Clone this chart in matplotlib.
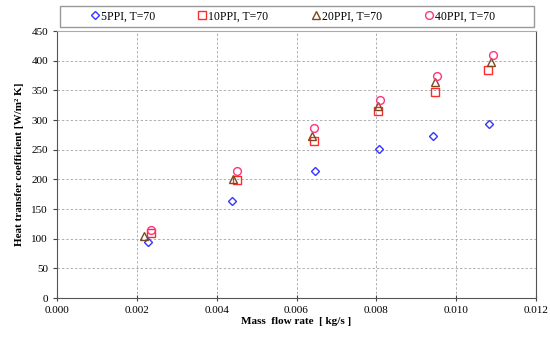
import matplotlib
matplotlib.use("Agg")
import matplotlib.pyplot as plt
from matplotlib.patches import Rectangle

# Measured heat transfer coefficient vs. mass flow rate for four foam densities
flow_5ppi = [0.00227, 0.00438, 0.00647, 0.00807, 0.00942, 0.01082]
htc_5ppi = [95, 164, 215, 251, 273, 294]

flow_10ppi = [0.00236, 0.00452, 0.00644, 0.00805, 0.00946, 0.01080]
htc_10ppi = [110, 199, 264, 316, 348, 384]

flow_20ppi = [0.00217, 0.00440, 0.00640, 0.00805, 0.00946, 0.01086]
htc_20ppi = [104, 201, 274, 324, 364, 398]

flow_40ppi = [0.00236, 0.00452, 0.00644, 0.00809, 0.00951, 0.01092]
htc_40ppi = [114, 214, 287, 334, 374, 409]

labels = ["5PPI, T=70", "10PPI, T=70", "20PPI, T=70", "40PPI, T=70"]
x_ticks = [0.000, 0.002, 0.004, 0.006, 0.008, 0.010, 0.012]
y_ticks = [0, 50, 100, 150, 200, 250, 300, 350, 400, 450]

plt.rcParams["font.family"] = ["Liberation Serif", "DejaVu Serif"]

fig = plt.figure(figsize=(5.5, 3.38), dpi=100)
ax = fig.add_axes([0.1036, 0.118, 0.871, 0.790])

styles = [
    (flow_5ppi, htc_5ppi, "D", "#3535ff", 3.8),
    (flow_10ppi, htc_10ppi, "s", "#ff2a2a", 5.2),
    (flow_20ppi, htc_20ppi, "^", "#7a4a1e", 5.8),
    (flow_40ppi, htc_40ppi, "o", "#ff3380", 5.6),
]
for (xs, ys, mk, col, ms), lab in zip(styles, labels):
    ax.plot(xs, ys, linestyle="none", marker=mk, markersize=ms,
            markerfacecolor="none", markeredgecolor=col,
            markeredgewidth=1.0, label=lab)

ax.set_xlim(0, 0.012)
ax.set_ylim(0, 450)
ax.set_xticks(x_ticks)
ax.set_xticklabels([f"{v:.3f}" for v in x_ticks])
ax.set_yticks(y_ticks)
ax.tick_params(axis="both", labelsize=8, color="#444444", length=3)
ax.tick_params(axis="x", direction="inout", length=5)
ax.grid(True, color="#b0b0b0", linestyle=(0, (2.5, 2)), linewidth=0.7)
ax.set_axisbelow(True)

for side in ("left", "bottom"):
    ax.spines[side].set_color("#555555")
ax.spines["top"].set_color("#aaaaaa")
ax.spines["right"].set_color("#555555")

ax.set_xlabel("Mass  flow rate  [ kg/s ]", fontsize=8, fontweight="bold",
              labelpad=1)
ax.set_ylabel("Heat transfer coefficient [W/m² K]", fontsize=8,
              fontweight="bold", labelpad=5)

# legend box drawn separately so the entries can sit centred inside it
box = Rectangle((0.109, 0.920), 0.862, 0.062, transform=fig.transFigure,
                facecolor="white", edgecolor="#999999", linewidth=1.0)
fig.patches.append(box)
leg = fig.legend(loc="center", bbox_to_anchor=(0.532, 0.951), ncol=4,
                 fontsize=8.5, frameon=False, handlelength=0.8,
                 handletextpad=0.1, columnspacing=3.6, borderpad=0)

fig.savefig("out.png", dpi=100, facecolor="white")
